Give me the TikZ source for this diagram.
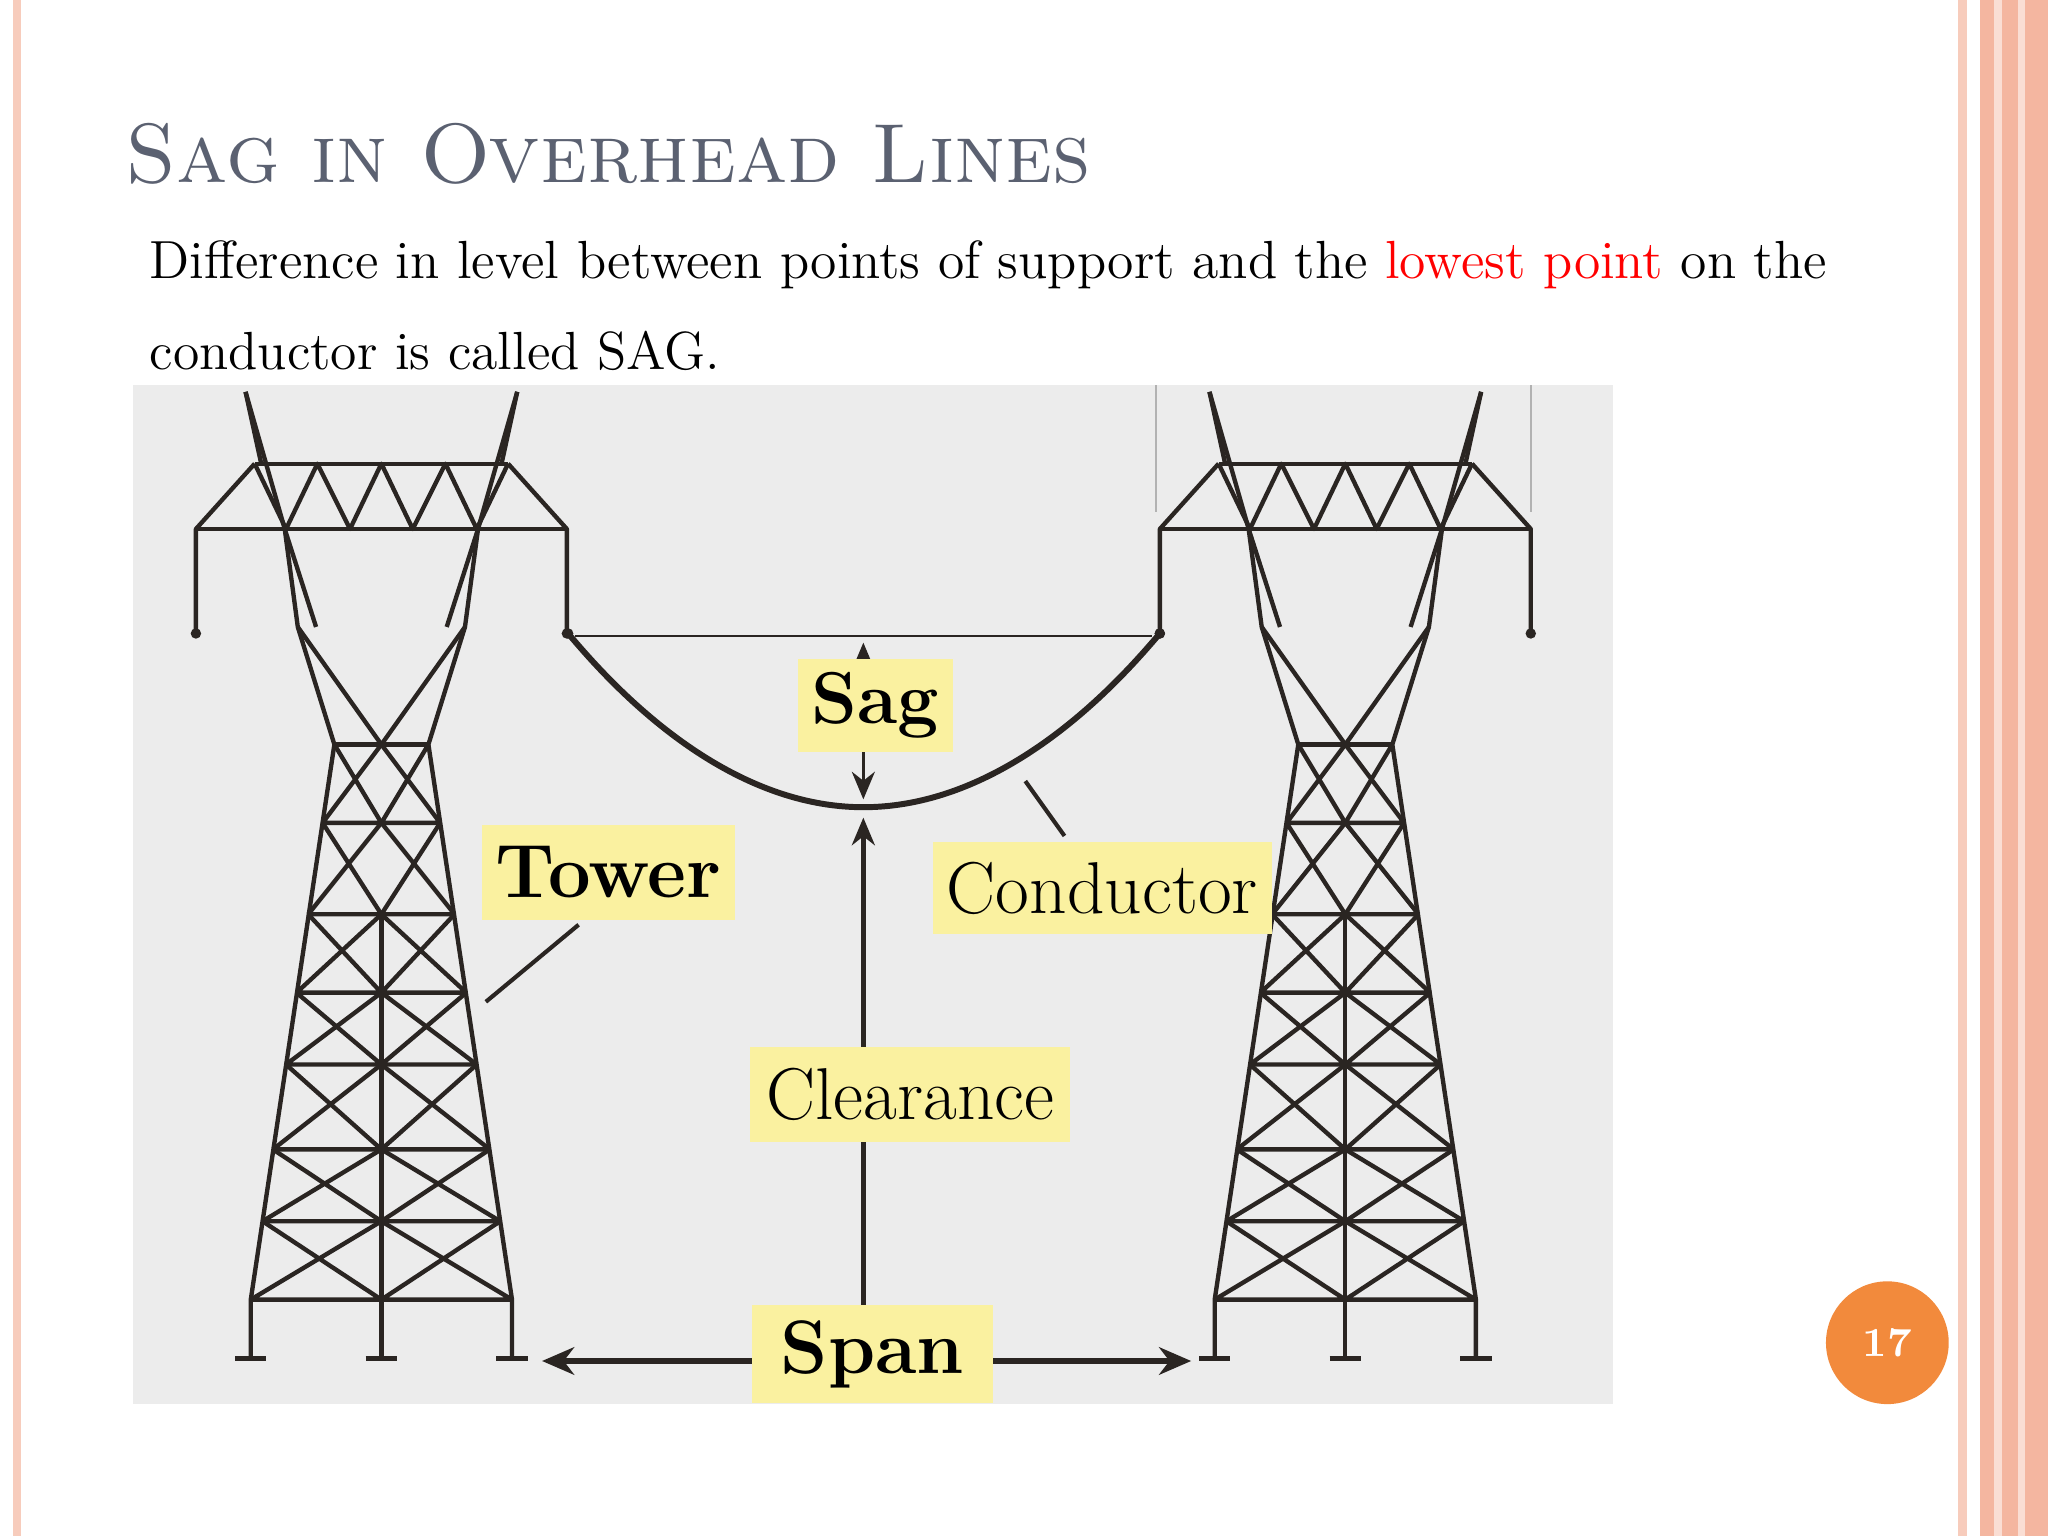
\documentclass[tikz,border=0pt]{standalone}
\usetikzlibrary{arrows.meta}
\definecolor{salmon}{HTML}{F4B6A0}
\definecolor{titlec}{HTML}{5B6171}
\definecolor{ink}{HTML}{2A2522}
\definecolor{hl}{HTML}{FAF1A0}
\definecolor{bg}{HTML}{ECECEC}
\definecolor{orng}{HTML}{F28A3C}
\tikzset{
  tw/.style={ink,line width=0.95pt,line join=round},
  lab/.style={fill=hl,inner sep=3pt,text=black,font=\fontsize{16}{18}\selectfont},
  ar/.style={ink,-{Stealth[length=6pt,width=5pt]}},
}
\newcommand\mytower[1]{%
\begin{scope}[shift={(#1,0)}]
 \foreach \s in {1,-1}{
 \begin{scope}[xscale=\s]
  \draw[tw] (-104,300)--(-74,405)--(-64,480)--(-36,570)--(-100,995)--(-100,1040);
  \draw[tw] (-104,300)--(-92,355);
  \draw[tw] (-142,485)--(-142,405)--(-97,355);
  \draw[tw] (-64,480)--(0,570);
  \draw[tw] (-74,405)--(-50,480);
  \fill[ink] (-142,485) circle (4);
  \draw[tw] (-112,1040)--(-88,1040);
  \draw[tw] (-36,570)--(0,630)--(-45,630) (0,570)--(-45,630);
  \draw[tw] (-45,630)--(0,700)--(-56,700) (0,630)--(-56,700);
  \draw[tw] (-56,700)--(0,760)--(-65,760) (0,700)--(-65,760);
  \draw[tw] (-65,760)--(0,815)--(-73,815) (0,760)--(-73,815);
  \draw[tw] (-73,815)--(0,880)--(-83,880) (0,815)--(-83,880);
  \draw[tw] (-83,880)--(0,935)--(-91,935) (0,880)--(-91,935);
  \draw[tw] (-91,935)--(0,995)--(-100,995) (0,935)--(-100,995);
  \draw[tw] (-36,570)--(0,570);
 \end{scope}}
 \draw[tw] (-97,355)--(97,355) (-142,405)--(142,405);
 \draw[tw] (-97,355)--(-73,405)--(-49,355)--(-24,405)--(0,355)--(24,405)--(49,355)--(73,405)--(97,355);
 \draw[tw] (0,700)--(0,1040) (-12,1040)--(12,1040);
\end{scope}}
\begin{document}
\begin{tikzpicture}[x=0.1mm,y=-0.1mm]
\useasboundingbox (0,0) rectangle (1568,1176);
\fill[white] (0,0) rectangle (1568,1176);
\fill[salmon!70] (10,0) rectangle (16,1176);
\fill[salmon!70] (1499,0) rectangle (1506,1176);
\fill[salmon] (1516,0) rectangle (1568,1176);
\fill[salmon!45] (1527,0) rectangle (1533,1176);
\fill[salmon!45] (1545,0) rectangle (1550,1176);
\node[anchor=base west,inner sep=0,text=titlec,font=\fontsize{18.3}{22}\selectfont\scshape] (title) at (95,140) {Sag in Overhead Lines};
\node[anchor=base west,inner sep=0,font=\fontsize{11.7}{13}\selectfont] (l1) at (114,213) {Difference in level between points of support and the \textcolor{red}{lowest point} on the};
\node[anchor=base west,inner sep=0,font=\fontsize{11.7}{13}\selectfont] (l2) at (114,283) {conductor is called SAG.};
\fill[bg] (102,295) rectangle (1235,1075);
\draw[gray!60,line width=0.5pt] (885,295)--(885,392) (1172,295)--(1172,392);
\mytower{292}
\mytower{1030}
\coordinate (cl) at (435,485);
\coordinate (cr) at (888,485);
\coordinate (low) at (661,618);
\draw[ink,line width=0.5pt] (440,487)--(882,487);
\draw[ink,line width=1.3pt] (cl) parabola bend (low) (cr);
\fill[ink] (cl) circle (4) (cr) circle (4);
\coordinate (s1) at (661,492);
\coordinate (s2) at (661,612);
\draw[ink,{Stealth[length=6pt,width=5pt]}-{Stealth[length=6pt,width=5pt]},line width=0.8pt] (s1)--(s2);
\coordinate (c1) at (661,1000);
\coordinate (c2) at (661,626);
\draw[ar,line width=1.2pt] (c1)--(c2);
\coordinate (sp1) at (415,1042);
\coordinate (sp2) at (912,1042);
\draw[ink,{Stealth[length=7pt,width=6pt]}-{Stealth[length=7pt,width=6pt]},line width=1.4pt] (sp1)--(sp2);
\node[lab,font=\fontsize{16}{18}\selectfont\bfseries,minimum width=10mm,minimum height=7mm] (sag) at (670,540) {Sag};
\node[lab,font=\fontsize{16.5}{18}\selectfont\bfseries,minimum width=17.3mm,minimum height=7.3mm] (tower) at (466,668) {Tower};
\node[lab,minimum width=25.3mm,minimum height=7mm] (cond) at (844,680) {Conductor};
\node[lab,minimum width=24.5mm,minimum height=7.3mm] (clear) at (697,838) {Clearance};
\node[lab,font=\fontsize{16.5}{18}\selectfont\bfseries,minimum width=18.4mm,minimum height=7.5mm] (span) at (668,1037) {Span};
\coordinate (tl) at (372,767);
\coordinate (cdl) at (785,598);
\draw[ink,line width=0.9pt] (443,708)--(tl);
\draw[ink,line width=0.9pt] (cdl)--(815,640);
\node[circle,fill=orng,minimum size=9.4mm,inner sep=0,text=white,font=\bfseries\fontsize{9}{10}\selectfont] (pg) at (1445,1028) {17};
\end{tikzpicture}
\end{document}
